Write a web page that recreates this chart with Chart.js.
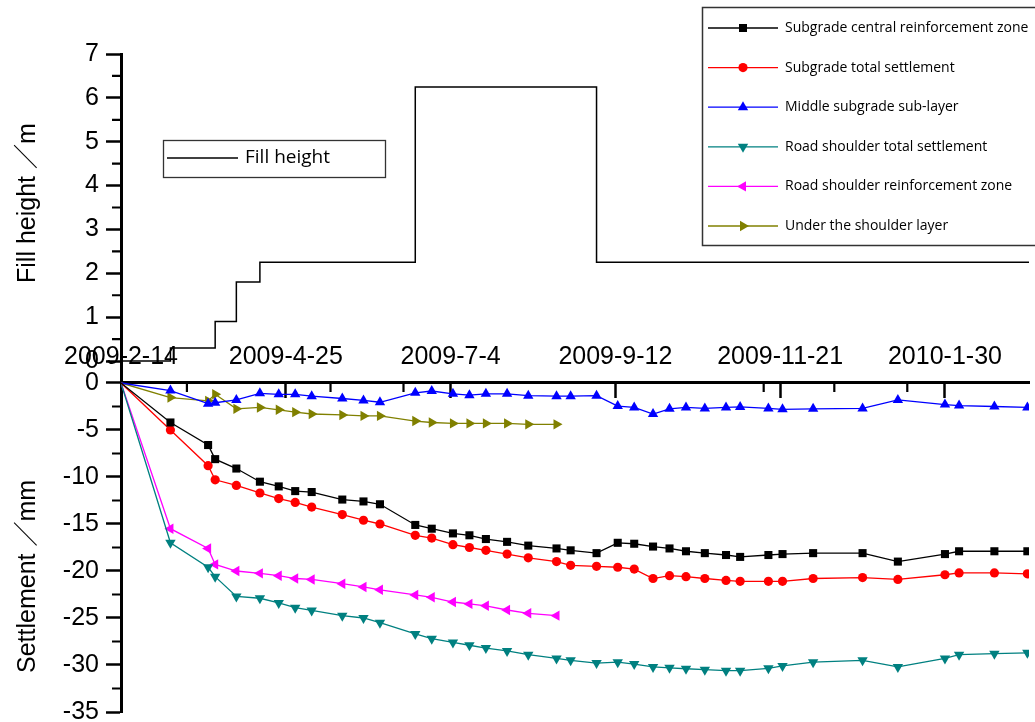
<!DOCTYPE html>
<html>
<head>
<meta charset="utf-8">
<script src="https://cdn.jsdelivr.net/npm/chart.js"></script>
<style>
  html, body { margin: 0; padding: 0; background: #fff; }
  canvas { display: block; }
</style>
</head>
<body>
<canvas id="chart" width="1035" height="722"></canvas>
<script>
// x values are days counted from 2009-2-14
const dayTicks = [0, 70, 140, 210, 280, 350];
const monthTicks = [28, 89, 120, 273, 303, 334];

// fill height (m), step line
const fillDays = [0, 21, 40, 49, 59, 125, 202, 386];
const fillHeight = [0, 0.3, 0.9, 1.8, 2.25, 6.25, 2.25, 2.25];

// settlement (mm)
const days = [0, 21, 37, 40, 49, 59, 67, 74, 81, 94, 103, 110, 125, 132, 141, 148, 155, 164, 173, 185,
  191, 202, 211, 218, 226, 233, 240, 248, 257, 263, 275, 281, 294, 315, 330, 350, 356, 371, 385];
const shoulderDays = days.slice(0, 20);

const centralZone = [0, -4.2, -6.6, -8.1, -9.1, -10.5, -11.0, -11.5, -11.6, -12.4,
  -12.6, -12.9, -15.1, -15.5, -16.0, -16.2, -16.6, -16.9, -17.3, -17.6,
  -17.8, -18.1, -17.0, -17.1, -17.4, -17.6, -17.9, -18.1, -18.3, -18.5,
  -18.3, -18.2, -18.1, -18.1, -19.0, -18.2, -17.9, -17.9, -17.9];
const subgradeTotal = [0, -5.0, -8.8, -10.3, -10.9, -11.7, -12.3, -12.7, -13.2, -14.0,
  -14.6, -15.0, -16.2, -16.5, -17.2, -17.5, -17.8, -18.2, -18.6, -19.0,
  -19.4, -19.5, -19.6, -19.8, -20.8, -20.5, -20.6, -20.8, -21.0, -21.1,
  -21.1, -21.1, -20.8, -20.7, -20.9, -20.4, -20.2, -20.2, -20.3];
const middleSubLayer = [0, -0.8, -2.2, -2.1, -1.8, -1.1, -1.2, -1.2, -1.4, -1.65,
  -1.85, -2.05, -1.05, -0.85, -1.15, -1.3, -1.15, -1.15, -1.35, -1.4,
  -1.4, -1.35, -2.45, -2.6, -3.3, -2.75, -2.6, -2.7, -2.6, -2.55,
  -2.7, -2.8, -2.75, -2.7, -1.8, -2.3, -2.4, -2.5, -2.6];
const shoulderTotal = [0, -17.0, -19.6, -20.6, -22.7, -22.9, -23.4, -23.9, -24.2, -24.75,
  -25.0, -25.5, -26.7, -27.2, -27.6, -27.9, -28.2, -28.5, -28.9, -29.3,
  -29.5, -29.8, -29.7, -29.9, -30.2, -30.3, -30.4, -30.5, -30.6, -30.6,
  -30.35, -30.1, -29.7, -29.5, -30.2, -29.3, -28.9, -28.8, -28.7];
const shoulderZone = [0, -15.5, -17.6, -19.3, -20.0, -20.25, -20.5, -20.8, -20.9, -21.35,
  -21.7, -22.0, -22.55, -22.8, -23.3, -23.5, -23.7, -24.15, -24.5, -24.75];
const underShoulder = [0, -1.55, -1.9, -1.2, -2.75, -2.6, -2.85, -3.1, -3.3, -3.4,
  -3.5, -3.5, -4.05, -4.2, -4.3, -4.3, -4.3, -4.3, -4.4, -4.4];

const fillTicks = [0, 1, 2, 3, 4, 5, 6, 7];
const settleTicks = [0, -5, -10, -15, -20, -25, -30, -35];

function pts(xs, ys) {
  return ys.map((v, i) => ({ x: xs[i], y: v }));
}

function dateLabel(v) {
  const d = new Date(2009, 1, 14 + v);
  return d.getFullYear() + '-' + (d.getMonth() + 1) + '-' + d.getDate();
}

function settleSet(label, xs, ys, color, style, rotation, radius) {
  return {
    label: label,
    data: pts(xs, ys),
    yAxisID: 'y',
    borderColor: color,
    backgroundColor: color,
    borderWidth: 1.3,
    pointStyle: style,
    pointRotation: rotation,
    pointRadius: c => (c.dataIndex === 0 ? 0 : radius),
    pointBorderWidth: 0,
    pointBackgroundColor: color,
    markerRadius: radius
  };
}

const tickFont = { family: '"Liberation Sans", Arial, sans-serif', size: 25 };

const axisBits = {
  type: 'linear',
  position: 'left',
  stack: 'panels',
  grid: { drawOnChartArea: false, tickLength: 15, tickWidth: 2.5, tickColor: '#000' },
  border: { display: true, color: '#000', width: 3 },
  ticks: { font: tickFont, color: '#000', padding: 7, autoSkip: false },
  afterFit: s => { s.width = 121; s.paddingTop = 0; s.paddingBottom = 0; }
};

// minor ticks, axis titles and the two legend boxes
const decorations = {
  id: 'decorations',
  afterDraw(chart) {
    const ctx = chart.ctx;
    const sx = chart.scales.x, sy = chart.scales.y, sf = chart.scales.yFill;
    const left = chart.chartArea.left;
    ctx.save();

    ctx.strokeStyle = '#000';
    ctx.lineWidth = 2.2;
    ctx.beginPath();
    for (let v = 0.5; v < 7; v += 1) {
      const py = sf.getPixelForValue(v);
      ctx.moveTo(left - 9, py); ctx.lineTo(left, py);
    }
    for (let v = -2.5; v > -35; v -= 5) {
      const py = sy.getPixelForValue(v);
      ctx.moveTo(left - 9, py); ctx.lineTo(left, py);
    }
    const axisY = sy.getPixelForValue(0);
    monthTicks.forEach(d => {
      const px = sx.getPixelForValue(d);
      ctx.moveTo(px, axisY); ctx.lineTo(px, axisY + 9);
    });
    ctx.stroke();

    // axis titles
    ctx.fillStyle = '#000';
    ctx.font = '25px "Liberation Sans", "Noto Sans CJK SC", sans-serif';
    ctx.textAlign = 'left';
    ctx.textBaseline = 'middle';
    [['Fill height ／m', 283], ['Settlement ／mm', 673]].forEach(([t, y0]) => {
      ctx.save();
      ctx.translate(28, y0);
      ctx.rotate(-Math.PI / 2);
      ctx.fillText(t, 0, 0);
      ctx.restore();
    });

    // fill height legend
    ctx.fillStyle = '#fff';
    ctx.fillRect(163, 140, 222, 37);
    ctx.strokeStyle = '#333';
    ctx.lineWidth = 1.3;
    ctx.strokeRect(163.5, 140.5, 222, 37);
    ctx.strokeStyle = '#000';
    ctx.beginPath();
    ctx.moveTo(167, 158); ctx.lineTo(238, 158);
    ctx.stroke();
    ctx.fillStyle = '#000';
    ctx.font = '19px "Open Sans", sans-serif';
    ctx.fillText('Fill height', 245, 158);

    // settlement legend
    ctx.fillStyle = '#fff';
    ctx.fillRect(702, 7, 340, 239);
    ctx.strokeStyle = '#333';
    ctx.lineWidth = 1.5;
    ctx.strokeRect(702.5, 7.5, 360, 238);
    ctx.font = '14px "Open Sans", sans-serif';
    chart.data.datasets.slice(1).forEach((ds, i) => {
      const ry = 28 + i * 39.6;
      ctx.strokeStyle = ds.borderColor;
      ctx.lineWidth = 1.3;
      ctx.beginPath();
      ctx.moveTo(708, ry); ctx.lineTo(778, ry);
      ctx.stroke();
      ctx.fillStyle = ds.borderColor;
      Chart.helpers.drawPoint(ctx, {
        pointStyle: ds.pointStyle, rotation: ds.pointRotation,
        radius: ds.markerRadius, borderWidth: 0
      }, 743, ry);
      ctx.fillStyle = '#000';
      ctx.fillText(ds.label, 785, ry);
    });

    ctx.restore();
  }
};

new Chart(document.getElementById('chart'), {
  type: 'line',
  data: {
    datasets: [
      {
        label: 'Fill height',
        data: pts(fillDays, fillHeight),
        yAxisID: 'yFill',
        stepped: true,
        borderColor: '#000',
        borderWidth: 1.5,
        pointRadius: 0
      },
      settleSet('Subgrade central reinforcement zone', days, centralZone, '#000000', 'rect', 0, 5.7),
      settleSet('Subgrade total settlement', days, subgradeTotal, '#ff0000', 'circle', 0, 4.6),
      settleSet('Middle subgrade sub-layer', days, middleSubLayer, '#0000ff', 'triangle', 0, 6),
      settleSet('Road shoulder total settlement', days, shoulderTotal, '#008080', 'triangle', 180, 6),
      settleSet('Road shoulder reinforcement zone', shoulderDays, shoulderZone, '#ff00ff', 'triangle', -90, 6),
      settleSet('Under the shoulder layer', shoulderDays, underShoulder, '#808000', 'triangle', 90, 6)
    ]
  },
  options: {
    responsive: false,
    animation: false,
    layout: { padding: { top: 54, bottom: 10, left: 0, right: 0 } },
    plugins: { legend: { display: false }, tooltip: { enabled: false } },
    scales: {
      x: {
        type: 'linear',
        position: { y: 0 },
        min: 0,
        max: 385.7,
        afterBuildTicks: s => { s.ticks = dayTicks.map(v => ({ value: v })); },
        afterFit: s => { s.paddingLeft = 0; s.paddingRight = 0; },
        grid: { drawOnChartArea: false, tickLength: 14, tickWidth: 2.5, tickColor: '#000' },
        border: { display: true, color: '#000', width: 3 },
        ticks: { font: tickFont, color: '#000', padding: -55, maxRotation: 0, autoSkip: false, callback: v => dateLabel(v) }
      },
      yFill: Object.assign({}, axisBits, {
        weight: 2,
        stackWeight: 318,
        min: -0.25,
        max: 7,
        afterBuildTicks: s => { s.ticks = fillTicks.map(v => ({ value: v })); }
      }),
      y: Object.assign({}, axisBits, {
        weight: 1,
        stackWeight: 340,
        min: -35,
        max: 1.17,
        afterBuildTicks: s => { s.ticks = settleTicks.map(v => ({ value: v })); }
      })
    }
  },
  plugins: [decorations]
});
</script>
</body>
</html>
